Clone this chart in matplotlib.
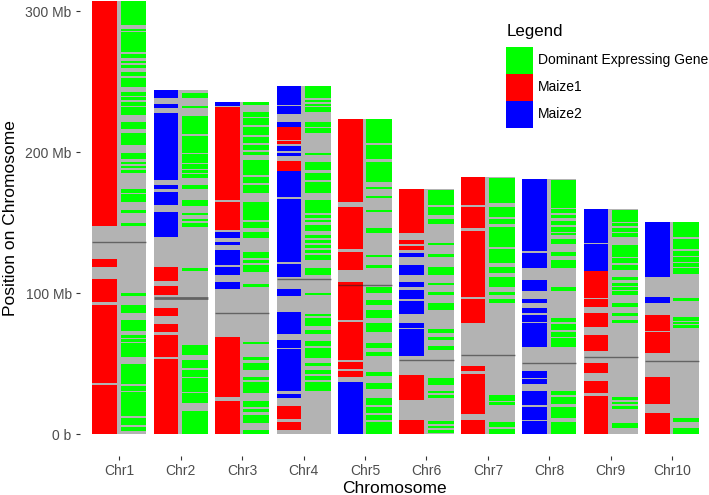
import matplotlib

matplotlib.use("Agg")
import matplotlib.pyplot as plt
from matplotlib.patches import Patch

plt.rcParams["font.family"] = ["Liberation Sans", "DejaVu Sans"]

chromosomes = ["Chr1", "Chr2", "Chr3", "Chr4", "Chr5", "Chr6", "Chr7", "Chr8", "Chr9", "Chr10"]
lengths = [307.0, 244.4, 235.7, 247.0, 223.9, 174.0, 182.4, 181.1, 159.7, 150.9]  # Mb
centromeres = [136.5, 96.4, 86.2, 109.9, 105.9, 52.4, 56.2, 50.8, 54.6, 52.0]

# ancestry blocks (start, end) in Mb
maize1 = {
    "Chr1": [(0, 35.3), (36.1, 91.7), (93.8, 109.9), (118.8, 124.1), (147.7, 307.0)],
    "Chr2": [(0, 53.4), (55.0, 70.4), (72.8, 78.0), (83.9, 89.3), (98.8, 105.2), (108.7, 118.8)],
    "Chr3": [(0, 23.6), (26.2, 69.2), (144.9, 164.9), (166.1, 231.9)],
    "Chr4": [(3.0, 8.9), (10.6, 20.1), (186.9, 194.0), (205.6, 208.0), (208.7, 218.1)],
    "Chr5": [(40.8, 44.9), (46.3, 51.1), (52.7, 79.8), (81.0, 107.8), (116.5, 129.5),
             (131.4, 161.4), (164.9, 168.0), (168.6, 223.9)],
    "Chr6": [(0, 10.1), (24.3, 42.0), (130.7, 133.7), (134.9, 137.8), (143.0, 174.0)],
    "Chr7": [(0, 10.1), (14.4, 42.7), (45.1, 48.4), (79.1, 95.7), (97.1, 144.4),
             (146.0, 161.4), (162.6, 182.4)],
    "Chr8": [],
    "Chr9": [(0, 27.1), (29.5, 33.3), (33.8, 38.0), (43.2, 50.8), (59.3, 70.4),
             (76.3, 85.8), (90.5, 95.7), (96.4, 116.0)],
    "Chr10": [(0, 15.3), (21.5, 40.9), (57.9, 72.3), (73.5, 84.6)],
}

maize2 = {
    "Chr1": [],
    "Chr2": [(140.1, 157.4), (162.6, 172.0), (174.0, 176.6), (180.3, 228.1), (231.2, 234.0),
             (238.2, 244.4)],
    "Chr3": [(103.0, 108.2), (112.9, 118.8), (120.0, 130.7), (134.2, 136.6), (139.4, 143.2),
             (232.7, 235.7)],
    "Chr4": [(26.0, 28.4), (30.7, 60.5), (61.4, 66.9), (70.9, 86.9), (98.3, 103.0),
             (111.8, 121.0), (122.0, 166.6), (168.1, 186.9), (197.3, 199.7), (201.1, 204.4),
             (218.1, 221.7), (226.9, 232.8), (233.5, 247.0)],
    "Chr5": [(0, 25.5), (26.0, 37.3)],
    "Chr6": [(55.5, 74.4), (75.1, 79.1), (85.3, 94.7), (95.9, 102.3), (104.2, 108.2),
             (112.9, 120.0), (125.5, 128.3)],
    "Chr7": [],
    "Chr8": [(0, 9.4), (10.1, 19.6), (20.7, 30.9), (35.7, 39.0), (39.7, 45.1), (62.1, 79.1),
             (79.9, 84.6), (86.2, 89.3), (92.8, 95.9), (101.8, 109.4), (117.7, 128.8),
             (130.2, 181.1)],
    "Chr9": [(116.0, 134.9), (135.9, 159.7)],
    "Chr10": [(92.8, 97.1), (111.7, 150.9)],
}

dominant = {
    "Chr1": [(2.3, 5.4), (6.6, 11.3), (13.2, 29.8), (30.9, 34.3), (35.7, 49.8), (55.0, 61.7),
             (62.1, 64.5), (65.7, 67.7), (68.5, 70.4), (73.5, 81.0), (86.2, 91.7), (98.3, 100.0),
             (147.7, 149.6), (157.1, 159.0), (164.9, 168.0), (168.5, 170.2), (171.3, 173.7),
             (185.1, 187.4), (189.1, 190.5), (191.7, 193.3), (195.0, 199.2), (205.1, 213.4),
             (216.3, 221.2), (226.4, 231.9), (232.8, 235.8), (237.0, 239.0), (240.1, 242.5),
             (246.5, 252.4), (254.1, 257.1), (259.5, 261.9), (263.1, 264.9), (266.6, 269.5),
             (271.0, 285.0), (286.0, 287.2), (290.2, 307.0)],
    "Chr2": [(0, 16.7), (22.0, 29.1), (30.2, 39.7), (40.8, 45.6), (46.8, 52.7), (56.2, 63.3),
             (115.8, 118.1), (147.2, 149.6), (151.0, 152.9), (155.3, 157.2), (162.1, 166.1),
             (174.0, 176.6), (181.5, 184.6), (185.5, 187.4), (188.3, 191.6), (192.5, 198.6),
             (199.6, 211.7), (212.7, 225.7), (231.2, 232.8), (238.7, 242.3)],
    "Chr3": [(0, 3.0), (7.8, 13.7), (16.0, 17.9), (19.6, 23.6), (29.1, 36.9), (38.5, 40.8),
             (45.6, 50.3), (52.7, 55.0), (64.0, 65.7), (104.7, 106.4), (115.3, 120.0),
             (121.3, 123.6), (124.8, 129.5), (139.4, 143.2), (146.1, 150.8), (152.0, 164.9),
             (170.9, 176.8), (178.0, 182.7), (183.9, 194.5), (198.0, 200.4), (201.6, 205.1),
             (206.3, 211.0), (212.2, 217.7), (219.3, 224.0), (225.2, 228.7), (233.5, 235.7)],
    "Chr4": [(30.7, 37.3), (38.5, 41.3), (42.5, 45.6), (48.4, 50.3), (53.9, 61.4), (62.6, 66.2),
             (70.9, 74.0), (77.0, 82.3), (83.6, 85.2), (98.8, 100.0), (113.0, 117.7),
             (123.6, 127.1), (128.5, 130.5), (131.9, 134.2), (135.4, 137.8), (139.0, 141.3),
             (144.4, 148.4), (150.5, 151.8), (153.2, 155.5), (156.7, 166.1), (170.9, 179.1),
             (180.3, 185.1), (187.4, 193.3), (198.0, 199.7), (213.4, 217.0), (218.1, 221.7),
             (228.7, 232.3), (233.0, 234.5), (235.8, 237.0), (238.2, 247.0)],
    "Chr5": [(0, 8.9), (10.1, 13.7), (14.9, 19.6), (20.8, 26.0), (32.1, 36.2), (41.6, 44.4),
             (55.7, 58.6), (61.4, 64.5), (72.8, 78.7), (82.7, 88.1), (91.7, 95.2), (100.0, 104.7),
             (117.7, 120.0), (125.7, 127.1), (142.5, 146.5), (157.4, 159.0), (167.3, 169.2),
             (173.9, 175.5), (179.1, 193.3), (195.2, 205.1), (206.3, 223.9)],
    "Chr6": [(0.7, 3.0), (4.2, 5.9), (7.3, 9.6), (25.5, 27.9), (29.0, 30.9), (34.9, 39.7),
             (59.8, 62.8), (66.9, 69.2), (71.6, 74.4), (88.1, 92.8), (98.8, 101.1), (105.9, 107.5),
             (112.9, 118.9), (125.9, 127.8), (134.0, 135.4), (149.1, 152.4), (155.5, 161.4),
             (162.6, 173.2)],
    "Chr7": [(0, 3.5), (5.4, 8.9), (20.7, 23.1), (23.8, 27.9), (93.3, 95.7), (98.8, 101.1),
             (104.7, 111.8), (114.6, 118.9), (121.2, 131.1), (133.0, 142.5), (143.0, 147.2),
             (149.1, 152.4), (154.3, 161.4), (163.8, 181.5)],
    "Chr8": [(0, 8.9), (11.3, 19.6), (21.5, 26.7), (27.9, 30.9), (62.1, 68.0), (68.7, 72.8),
             (73.9, 78.2), (79.9, 82.2), (101.8, 104.2), (117.7, 123.6), (126.4, 129.5),
             (134.9, 138.2), (141.3, 142.5), (143.7, 146.7), (148.2, 151.5), (153.1, 155.5),
             (157.1, 159.5), (160.2, 180.3)],
    "Chr9": [(4.2, 7.7), (17.7, 20.1), (21.5, 23.1), (24.3, 26.7), (79.1, 81.0), (83.9, 85.8),
             (90.0, 92.8), (98.8, 101.5), (102.3, 104.8), (105.5, 107.5), (109.4, 111.8),
             (116.5, 120.0), (121.2, 124.8), (125.9, 134.2), (140.1, 142.5), (143.7, 146.0),
             (147.7, 150.1), (150.8, 159.0)],
    "Chr10": [(0, 4.7), (8.9, 11.3), (75.1, 77.5), (78.2, 79.8), (80.5, 83.4), (94.7, 96.4),
              (113.6, 117.7), (118.9, 121.2), (122.4, 125.5), (126.4, 130.2), (131.1, 138.2),
              (139.6, 150.8)],
}

y_ticks = [0, 100, 200, 300]
y_tick_labels = ["0 b", "100 Mb", "200 Mb", "300 Mb"]

GRAY = "#b3b3b3"
RED = "#ff0000"
BLUE = "#0000ff"
GREEN = "#00ff00"


def draw_blocks(ax, x, blocks, color, left, right):
    if not blocks:
        return
    starts = [b[0] for b in blocks]
    heights = [b[1] - b[0] for b in blocks]
    ax.bar([x + (left + right) / 2] * len(blocks), heights, bottom=starts,
           width=right - left, color=color, linewidth=0, zorder=2)


fig = plt.figure(figsize=(7.09, 4.95), dpi=100)
ax = fig.add_axes([79.5 / 709, 1 - 456 / 495, 1 - 79.5 / 709, (456 + 20.3) / 495])

for i, name in enumerate(chromosomes):
    x = i + 1
    ax.bar(x, lengths[i], width=0.88, color=GRAY, linewidth=0, zorder=1)
    draw_blocks(ax, x, maize1[name], RED, -0.44, -0.04)
    draw_blocks(ax, x, maize2[name], BLUE, -0.44, -0.04)
    draw_blocks(ax, x, dominant[name], GREEN, 0.02, 0.44)
    ax.hlines(centromeres[i], x - 0.44, x + 0.44, color="#222222", alpha=0.55,
              lw=2.0 if name == "Chr2" else 1.0, zorder=3)

ax.set_xlim(0.35, 10.6)
ax.set_ylim(-15.35, 322.35)
ax.set_xticks(range(1, len(chromosomes) + 1))
ax.set_xticklabels(chromosomes)
ax.set_yticks(y_ticks)
ax.set_yticklabels(y_tick_labels)
for s in ax.spines.values():
    s.set_visible(False)
ax.tick_params(axis="both", colors="#333333", labelcolor="#4d4d4d", labelsize=10,
               length=2.6, width=0.8, pad=3)
ax.set_xlabel("Chromosome", fontsize=12.5, labelpad=2)
ax.set_ylabel("Position on Chromosome", fontsize=12.5, labelpad=5)

handles = [Patch(facecolor=GREEN, edgecolor="none", label="Dominant Expressing Gene"),
           Patch(facecolor=RED, edgecolor="none", label="Maize1"),
           Patch(facecolor=BLUE, edgecolor="none", label="Maize2")]
fig.legend(handles=handles, loc="upper left", bbox_to_anchor=(506 / 709, 1 - 46.7 / 495),
           frameon=False, fontsize=10, handlelength=1.92, handleheight=2.61, labelspacing=0,
           handletextpad=0.35, borderpad=0, borderaxespad=0)
fig.text(506.5 / 709, 1 - 31.5 / 495, "Legend", fontsize=12.2, ha="left", va="center")

fig.savefig("out.png", dpi=100)
